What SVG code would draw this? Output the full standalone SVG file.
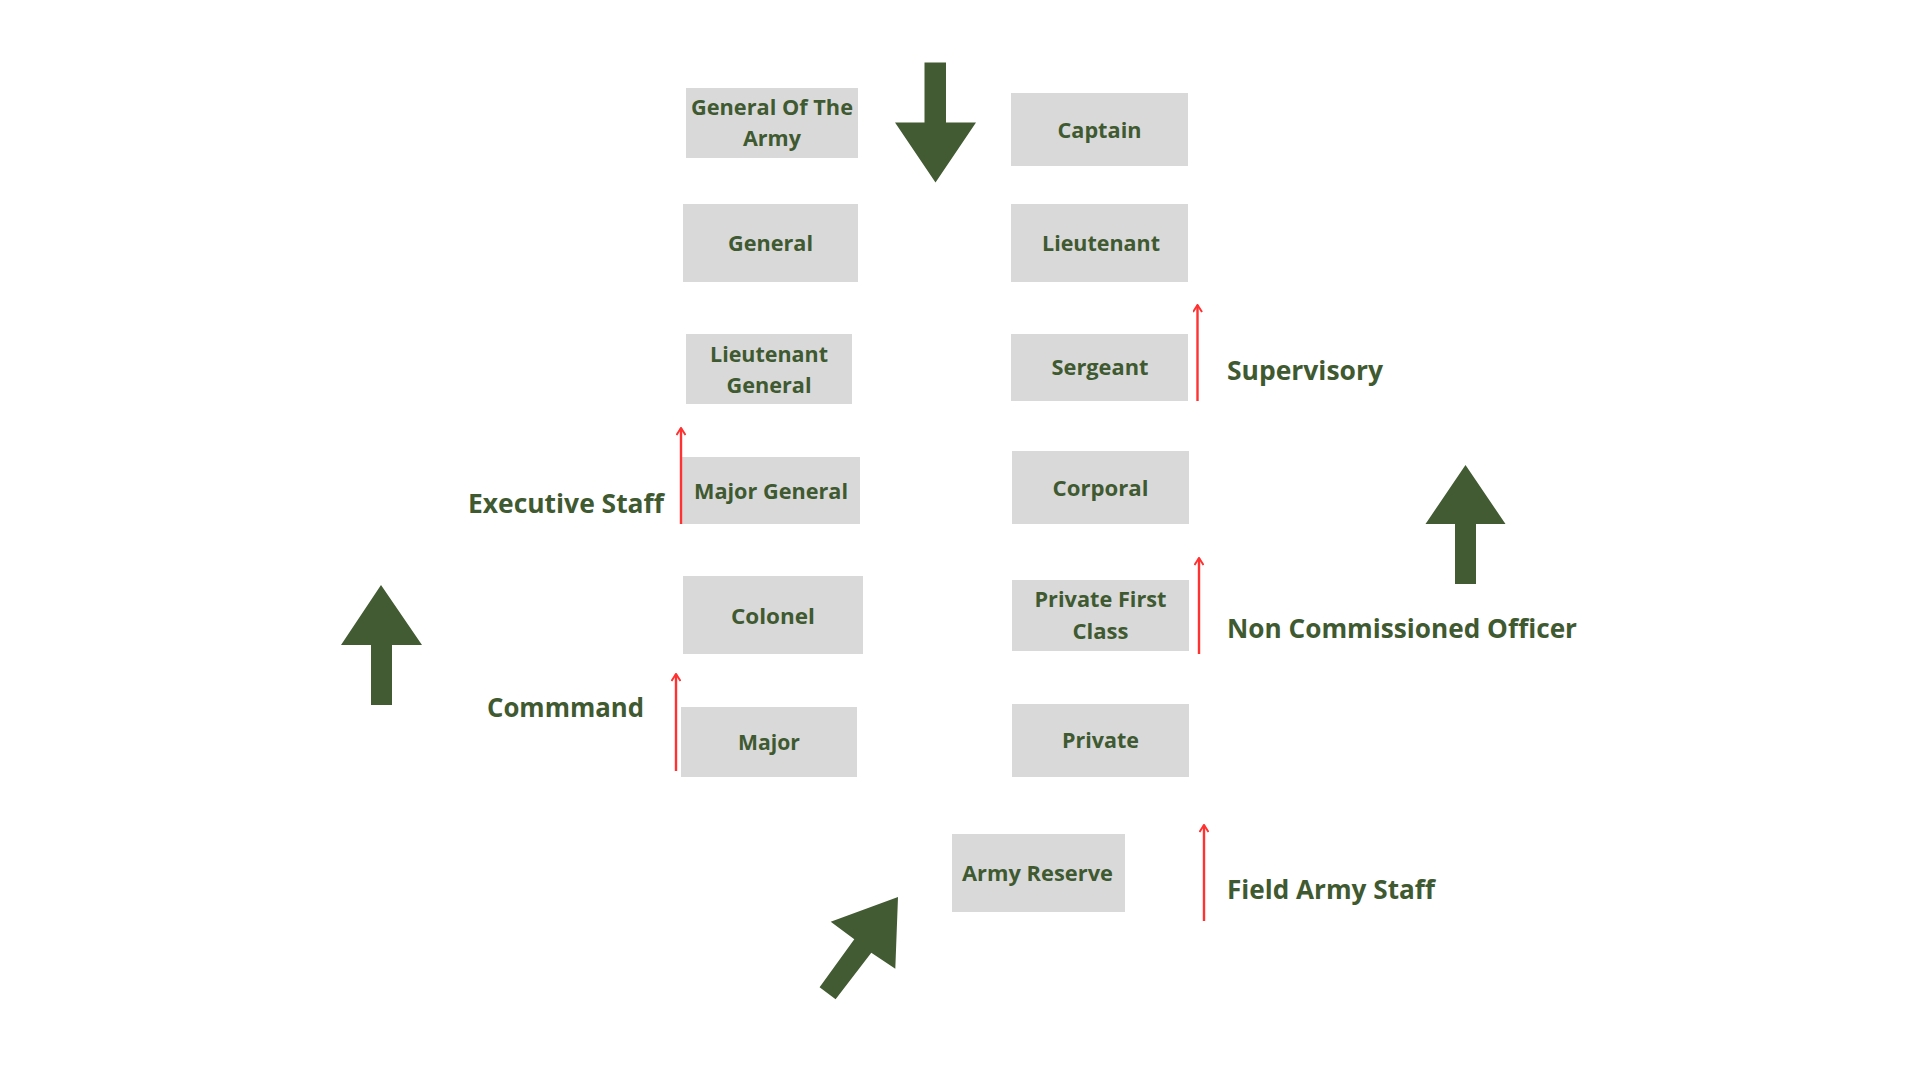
<svg xmlns="http://www.w3.org/2000/svg" width="1920" height="1080" viewBox="0 0 1920 1080">
<style>
.box{fill:#d9d9d9}
.t{font-family:"Open Sans","Liberation Sans",sans-serif;font-weight:700;font-size:22px;fill:#3f5a31;text-anchor:middle}
.lbl{font-family:"Open Sans","Liberation Sans",sans-serif;font-weight:700;font-size:27px;fill:#3f5a31}
.red{stroke:#ff3131;stroke-width:2.4;fill:none;marker-end:url(#rh)}
.big{fill:#425b33}
</style>
<defs>
<marker id="rh" viewBox="0 0 10 10" refX="9" refY="5" markerWidth="10" markerHeight="10" markerUnits="userSpaceOnUse" orient="auto">
<path d="M2,0.5 L9,5 L2,9.5" fill="none" stroke="#ff3131" stroke-width="2"/>
</marker>
</defs>
<rect width="1920" height="1080" fill="#ffffff"/>

<g id="big-arrows">
<polygon class="big" points="924.5,62.5 946,62.5 946,122.5 976,122.5 935.5,182.5 895,122.5 924.5,122.5"/>
<polygon class="big" points="381,585 422,645 392,645 392,705 371,705 371,645 341,645"/>
<polygon class="big" points="1465.5,465 1505.5,524 1476,524 1476,584 1455,584 1455,524 1425.5,524"/>
<polygon class="big" points="898,897 895.3,968.7 871.3,952.7 835.6,999.3 819.6,987.3 854.3,939.3 830.7,921.7"/>
</g>

<g id="node-general-of-the-army"><rect class="box" x="686" y="88" width="172" height="70"/>
<text class="t" x="772" y="115" textLength="162" lengthAdjust="spacingAndGlyphs">General Of The</text>
<text class="t" x="772" y="146" textLength="58" lengthAdjust="spacingAndGlyphs">Army</text></g>

<g id="node-captain"><rect class="box" x="1011" y="93" width="177" height="73"/>
<text class="t" x="1099.5" y="137.5" textLength="84" lengthAdjust="spacingAndGlyphs">Captain</text></g>

<g id="node-general"><rect class="box" x="683" y="204" width="175" height="78"/>
<text class="t" x="770.5" y="251" textLength="85" lengthAdjust="spacingAndGlyphs">General</text></g>

<g id="node-lieutenant"><rect class="box" x="1011" y="204" width="177" height="78"/>
<text class="t" x="1101" y="251" textLength="118" lengthAdjust="spacingAndGlyphs">Lieutenant</text></g>

<g id="node-lieutenant-general"><rect class="box" x="686" y="334" width="166" height="70"/>
<text class="t" x="769" y="362" textLength="118" lengthAdjust="spacingAndGlyphs">Lieutenant</text>
<text class="t" x="769" y="393" textLength="85" lengthAdjust="spacingAndGlyphs">General</text></g>

<g id="node-sergeant"><rect class="box" x="1011" y="334" width="177" height="67"/>
<text class="t" x="1100" y="375" textLength="97" lengthAdjust="spacingAndGlyphs">Sergeant</text></g>

<g id="node-major-general"><rect class="box" x="682" y="457" width="178" height="67"/>
<text class="t" x="771" y="499" textLength="154" lengthAdjust="spacingAndGlyphs">Major General</text></g>

<g id="node-corporal"><rect class="box" x="1012" y="451" width="177" height="73"/>
<text class="t" x="1100.5" y="496" textLength="96" lengthAdjust="spacingAndGlyphs">Corporal</text></g>

<g id="node-colonel"><rect class="box" x="683" y="576" width="180" height="78"/>
<text class="t" x="773" y="624" textLength="84" lengthAdjust="spacingAndGlyphs">Colonel</text></g>

<g id="node-private-first-class"><rect class="box" x="1012" y="580" width="177" height="71"/>
<text class="t" x="1100.5" y="607" textLength="132" lengthAdjust="spacingAndGlyphs">Private First</text>
<text class="t" x="1100.5" y="639" textLength="56" lengthAdjust="spacingAndGlyphs">Class</text></g>

<g id="node-major"><rect class="box" x="681" y="707" width="176" height="70"/>
<text class="t" x="769" y="750" textLength="62" lengthAdjust="spacingAndGlyphs">Major</text></g>

<g id="node-private"><rect class="box" x="1012" y="704" width="177" height="73"/>
<text class="t" x="1100.5" y="748" textLength="77" lengthAdjust="spacingAndGlyphs">Private</text></g>

<g id="node-army-reserve"><rect class="box" x="952" y="834" width="173" height="78"/>
<text class="t" x="1037.5" y="881" textLength="151" lengthAdjust="spacingAndGlyphs">Army Reserve</text></g>

<g id="labels">
<text class="lbl" x="468" y="513" textLength="196" lengthAdjust="spacingAndGlyphs">Executive Staff</text>
<text class="lbl" x="487" y="717" textLength="157" lengthAdjust="spacingAndGlyphs">Commmand</text>
<text class="lbl" x="1227" y="380" textLength="156" lengthAdjust="spacingAndGlyphs">Supervisory</text>
<text class="lbl" x="1227" y="638" textLength="350" lengthAdjust="spacingAndGlyphs">Non Commissioned Officer</text>
<text class="lbl" x="1227" y="899" textLength="208" lengthAdjust="spacingAndGlyphs">Field Army Staff</text>
</g>

<g id="connectors">
<line class="red" x1="681" y1="524" x2="681" y2="428"/>
<line class="red" x1="676" y1="771" x2="676" y2="674"/>
<line class="red" x1="1197.5" y1="401" x2="1197.5" y2="305"/>
<line class="red" x1="1199" y1="654" x2="1199" y2="558"/>
<line class="red" x1="1204" y1="921" x2="1204" y2="825"/>
</g>
</svg>
